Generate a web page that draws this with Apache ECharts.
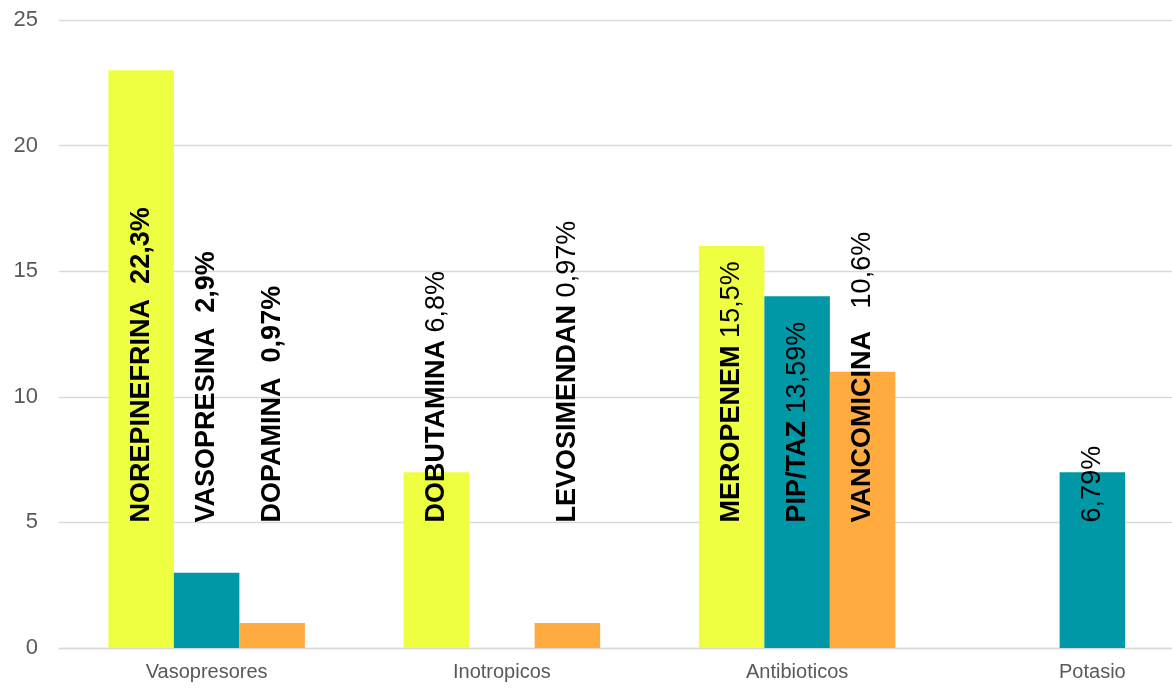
<!DOCTYPE html>
<html>
<head>
<meta charset="utf-8">
<title>Fármacos por grupo</title>
<script src="https://cdn.jsdelivr.net/npm/echarts@6/dist/echarts.min.js"></script>
<style>
  html, body { margin: 0; padding: 0; background: #fff; }
  #chart { width: 1172px; height: 692px; }
</style>
</head>
<body>
<div id="chart"></div>
<script>
// Drug groups and the number of patients per drug
const categories = ['Vasopresores', 'Inotropicos', 'Antibioticos', 'Potasio'];
const firstDrug  = [23, 7, 16, '-'];
const secondDrug = [3, '-', 14, 7];
const thirdDrug  = [1, 1, 11, '-'];

// Drug name and share shown on each bar
const firstLabels  = ['NOREPINEFRINA  22,3%', 'DOBUTAMINA 6,8%', 'MEROPENEM 15,5%', ''];
const secondLabels = ['VASOPRESINA  2,9%', '', 'PIP/TAZ 13,59%', '6,79%'];
const thirdLabels  = ['DOPAMINA  0,97%', 'LEVOSIMENDAN 0,97%', 'VANCOMICINA   10,6%', ''];

const yTicks = { min: 0, max: 25, interval: 5 };
const labelBaseValue = 5;   // labels start at this value on the y axis

const FONT = '"Liberation Sans", Arial, sans-serif';
const gridTop = 20, gridBottom = 44, chartH = 692;
const plotH = chartH - gridTop - gridBottom;
const labelLift = plotH / (yTicks.max - yTicks.min) * labelBaseValue;

function makeFormatter(texts) {
  return function (p) {
    const t = texts[p.dataIndex] || '';
    const m = t.match(/^(.*?)(\s*)(\S+%)$/);
    if (!m) return t;
    const pctStyle = p.dataIndex === 0 ? 'pb' : 'p';
    const name = m[1] ? '{n|' + m[1] + '}' : '';
    return name + m[2] + '{' + pctStyle + '|' + m[3] + '}';
  };
}

function barSeries(name, values, texts, color) {
  return {
    name: name,
    type: 'bar',
    data: values,
    barWidth: 65.5,
    barGap: '0%',
    itemStyle: { color: color },
    label: {
      show: true,
      position: 'insideBottom',
      distance: 0,
      rotate: 90,
      align: 'left',
      verticalAlign: 'middle',
      // offset is applied along the rotated text direction: lift label start to y = 5
      offset: [labelLift, 0],
      color: '#000',
      textBorderWidth: 0,
      fontFamily: FONT,
      fontSize: 27,
      formatter: makeFormatter(texts),
      rich: {
        n:  { fontFamily: FONT, fontSize: 27, fontWeight: 'bold', color: '#000' },
        pb: { fontFamily: FONT, fontSize: 27, fontWeight: 'bold', color: '#000' },
        p:  { fontFamily: FONT, fontSize: 27, fontWeight: 'normal', color: '#000' }
      }
    }
  };
}

const chart = echarts.init(document.getElementById('chart'), null, { renderer: 'canvas' });
chart.setOption({
  animation: false,
  backgroundColor: '#fff',
  grid: { left: 59, top: gridTop, bottom: gridBottom, width: 1181, outerBoundsMode: 'none', containLabel: false },
  xAxis: {
    type: 'category',
    data: categories,
    axisTick: { show: false },
    axisLine: { lineStyle: { color: '#d9d9d9', width: 1.3 } },
    axisLabel: { color: '#595959', fontSize: 20, fontFamily: FONT, margin: 14 }
  },
  yAxis: {
    type: 'value',
    min: yTicks.min,
    max: yTicks.max,
    interval: yTicks.interval,
    axisLine: { show: false },
    axisTick: { show: false },
    axisLabel: { color: '#595959', fontSize: 22, fontFamily: FONT, margin: 21 },
    splitLine: { lineStyle: { color: '#d9d9d9', width: 1.3 } }
  },
  series: [
    barSeries('Fármaco 1', firstDrug, firstLabels, '#eeff41'),
    barSeries('Fármaco 2', secondDrug, secondLabels, '#0097a7'),
    barSeries('Fármaco 3', thirdDrug, thirdLabels, '#ffab40')
  ]
});
</script>
</body>
</html>
